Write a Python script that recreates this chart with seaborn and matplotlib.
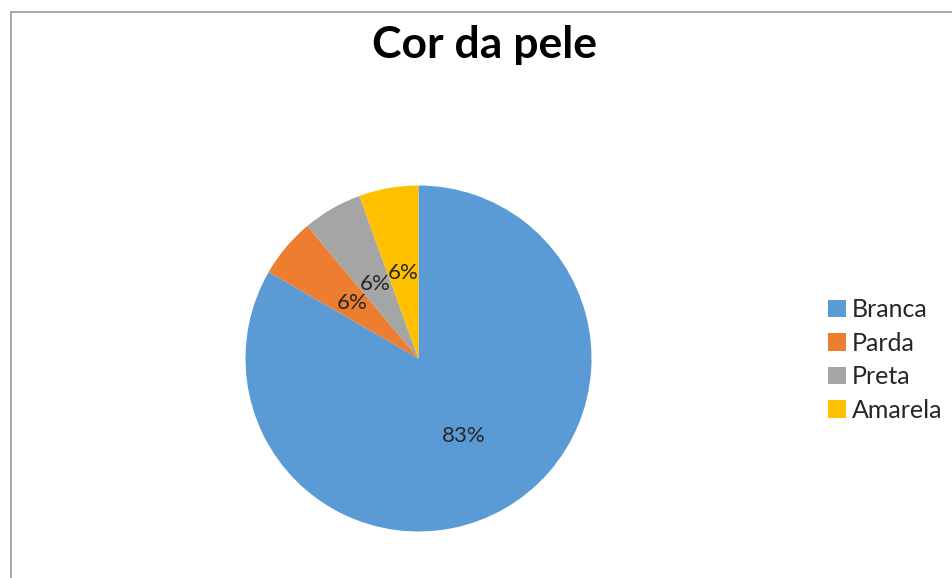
import matplotlib
matplotlib.use("Agg")
import matplotlib.pyplot as plt
from matplotlib.lines import Line2D
import seaborn as sns

# Skin colour distribution (counts)
categories = ["Branca", "Parda", "Preta", "Amarela"]
counts = [15, 1, 1, 1]
colors = ["#5B9BD5", "#ED7D31", "#A5A5A5", "#FFC000"]

sns.set_theme(style="white")
plt.rcParams["font.family"] = ["Lato", "DejaVu Sans"]

W, H = 953, 578
fig = plt.figure(figsize=(W / 100, H / 100), dpi=100)
fig.patch.set_facecolor("white")

# Pie axes: centre (418.5, 358.5) px, radius 173 px
cx, cy, r = 418.5, 358.5, 173
ax = fig.add_axes([(cx - r) / W, (H - cy - r) / H, 2 * r / W, 2 * r / H])

palette = sns.color_palette(colors)
wedges, texts, autotexts = ax.pie(
    counts,
    colors=palette,
    startangle=90,
    counterclock=False,
    autopct=lambda p: f"{p:.0f}%",
    pctdistance=0.5,
    textprops=dict(fontsize=16, color="#262626"),
    wedgeprops=dict(linewidth=0),
)
autotexts[0].set_position((0.5 * 0.5 * 1.04, -0.866 * 0.5 * 1.04))
ax.set_xlim(-1, 1)
ax.set_ylim(-1, 1)
ax.set_aspect("equal")
ax.axis("off")

fig.text(484.5 / W, 1 - 45 / H, "Cor da pele", ha="center", va="center",
         fontsize=32, fontweight="bold", color="black")

fig.legend(
    wedges, categories,
    loc="center left",
    bbox_to_anchor=(828 / W, 1 - 360 / H),
    frameon=False,
    fontsize=18,
    handlelength=0.72, handleheight=0.72,
    handletextpad=0.22, labelspacing=0.42,
    borderpad=0, borderaxespad=0,
    labelcolor="#262626",
)

# Chart-area border: top and left edges
fig.add_artist(Line2D([10.5 / W, 10.5 / W], [0, 1 - 11.5 / H],
                      transform=fig.transFigure, color="#a0a0a0", lw=1.3))
fig.add_artist(Line2D([10.5 / W, 1], [1 - 11.5 / H, 1 - 11.5 / H],
                      transform=fig.transFigure, color="#a0a0a0", lw=1.3))

fig.savefig("out.png", dpi=100, facecolor="white")
